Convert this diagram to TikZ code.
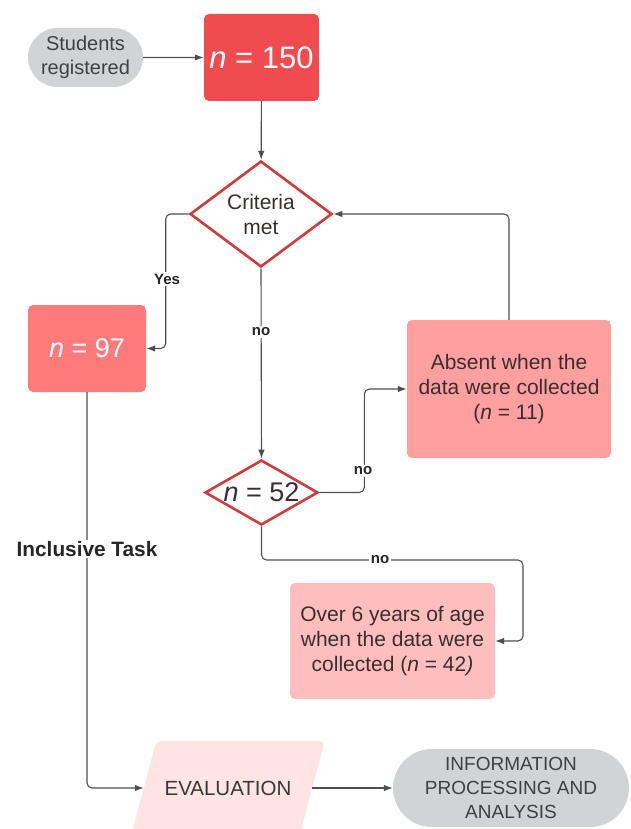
\documentclass[tikz,border=0pt]{standalone}
\usepackage{fontspec}
\setmainfont{Liberation Sans}
\usetikzlibrary{arrows.meta,shapes.geometric,shapes.misc,backgrounds}
\definecolor{pillgray}{HTML}{D2D3D5}
\definecolor{redtop}{HTML}{F04B4F}
\definecolor{redyes}{HTML}{FF7B7B}
\definecolor{redabs}{HTML}{FF9F9F}
\definecolor{redover}{HTML}{FFBEBE}
\definecolor{pinkeval}{HTML}{FFE4E4}
\definecolor{diamondred}{HTML}{CF3B3B}
\definecolor{linegray}{HTML}{4F4F4F}
\definecolor{darktext}{HTML}{3A2E2E}

\begin{document}
\begin{tikzpicture}[x=1pt, y=-1pt, >={Latex[length=9pt,width=6.5pt]},
    every node/.style={font=\fontsize{21}{25}\selectfont, align=center, text=darktext},
    box/.style={rounded corners=5pt, inner sep=0pt},
    pill/.style={rounded rectangle, fill=pillgray, inner sep=0pt, text=black!75, font=\fontsize{20}{24.5}\selectfont},
    decision/.style={diamond, draw=diamondred, line width=2.6pt, fill=white, inner sep=0pt},
    lbl/.style={fill=white, inner sep=1.5pt, text=black!85, font=\bfseries\fontsize{15}{18}\selectfont},
    line/.style={draw=linegray, line width=1.1pt, rounded corners=5pt}]
    \useasboundingbox (0,0) rectangle (630,829);
    \clip (0,0) rectangle (630,829);

    \node[pill, minimum width=115, minimum height=59] (reg) at (85.5,57.5) {Students\\registered};
    \node[box, fill=redtop, minimum width=115, minimum height=87, text=white, font=\fontsize{31}{36}\selectfont] (n150) at (261.5,57.5) {\textit{n} = 150};
    \node[decision, minimum width=142, minimum height=106, aspect=1.34] (crit) at (261,214) {Criteria\\met};
    \node[box, fill=redyes, minimum width=118, minimum height=87, text=white, font=\fontsize{27}{32}\selectfont] (n97) at (87,348.5) {\textit{n} = 97};
    \node[decision, minimum width=113, minimum height=65, aspect=1.75, font=\fontsize{27}{32}\selectfont] (n52) at (261.5,492.5) {\textit{n} = 52};
    \node[box, fill=redabs, minimum width=204, minimum height=138] (absent) at (509,389) {Absent when the\\data were collected\\(\textit{n} = 11)};
    \node[box, fill=redover, minimum width=205, minimum height=116] (over) at (392.5,641) {Over 6 years of age\\when the data were\\collected (\textit{n} = 42\textit{)}};
    \node[inner sep=0pt, minimum width=168, minimum height=94, text=black!78, font=\fontsize{20.5}{24}\selectfont] (eval) at (228,788) {EVALUATION};
    \node[pill, minimum width=236, minimum height=78, font=\fontsize{19}{24}\selectfont] (info) at (511,788) {INFORMATION\\PROCESSING AND\\ANALYSIS};
    \coordinate (turn) at (523,560);

    % parallelogram behind the evaluation text
    \begin{scope}[on background layer]
        \fill[pinkeval, rounded corners=5pt] ([xshift=12.6pt]eval.north west) -- ([xshift=12.6pt]eval.north east)
            -- ([xshift=-12.6pt]eval.south east) -- ([xshift=-12.6pt]eval.south west) -- cycle;
    \end{scope}

    \draw[line,->] (reg) -- (n150);
    \draw[line,->] (n150) -- (crit);
    \draw[line,->] (crit.west) -- ++(-23,0) |- (n97.east);
    \draw[line,->] (crit.south) -- (n52.north);
    \draw[line,->] (n52.east) -- ++(45,0) |- (absent.west);
    \draw[line,->] (absent.north) |- (crit.east);
    \draw[line,->] (n52.south) |- (turn) |- (over.east);
    \draw[line,->] (n97.south) |- (eval.west);
    \draw[line,->] (eval.east) -- (info.west);

    \node[lbl] (yes) at (167,279) {Yes};
    \node[lbl] (no1) at (261,332) {no};
    \node[lbl] (no2) at (363,471) {no};
    \node[lbl] (no3) at (380,560) {no};
    \node[lbl, font=\bfseries\fontsize{20.8}{24}\selectfont] (task) at (87,549) {Inclusive Task};
\end{tikzpicture}
\end{document}
